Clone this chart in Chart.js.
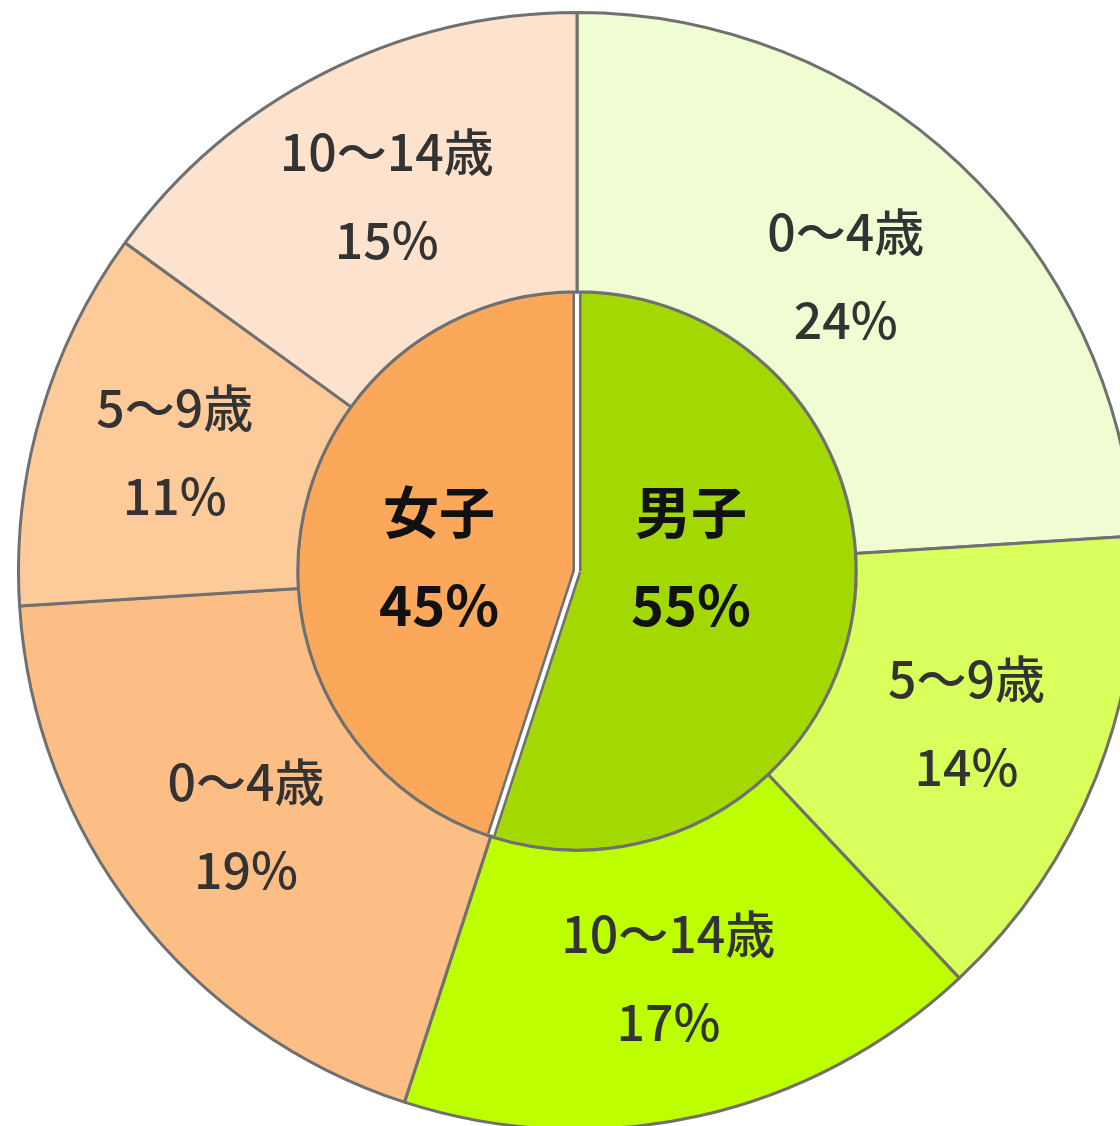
<!DOCTYPE html>
<html>
<head>
<meta charset="utf-8">
<script src="https://cdn.jsdelivr.net/npm/chart.js@4"></script>
<style>
  html, body { margin: 0; padding: 0; background: #fff; overflow: hidden; }
  body { width: 1120px; height: 1126px; position: relative; }
  #wrap { position: absolute; left: 17px; top: 11px; width: 1120px; height: 1120px; }
</style>
</head>
<body>
<div id="wrap"><canvas id="pie"></canvas></div>
<script>
// outer ring: age groups, boys first then girls (clockwise from top)
const ageLabels = ["0～4歳", "5～9歳", "10～14歳", "0～4歳", "5～9歳", "10～14歳"];
const ageValues = [24, 14, 17, 19, 11, 15];
const ageColors = ["#F0FCD2", "#D9FF5C", "#BEFF00", "#FDBE86", "#FDCB9A", "#FDE3CD"];

// inner pie: sex
const sexLabels = ["男子", "女子"];
const sexValues = [55, 45];
const sexColors = ["#A4D802", "#FBA85A"];

const lineGray = "#707070";

// white gap (with grey edges) between the two inner slices
const gapLines = {
  id: "gapLines",
  afterDatasetsDraw(chart) {
    const ctx = chart.ctx;
    const meta = chart.getDatasetMeta(1);
    ctx.save();
    ctx.lineCap = "butt";
    [[lineGray, 9], ["#fff", 4]].forEach(([color, width]) => {
      ctx.strokeStyle = color;
      ctx.lineWidth = width;
      meta.data.forEach((arc) => {
        const r = arc.outerRadius - 2;
        ctx.beginPath();
        ctx.moveTo(arc.x, arc.y);
        ctx.lineTo(arc.x + Math.cos(arc.startAngle) * r, arc.y + Math.sin(arc.startAngle) * r);
        ctx.stroke();
      });
    });
    ctx.restore();
  },
};

// two-line labels on every slice
const sliceLabels = {
  id: "sliceLabels",
  afterDraw(chart) {
    const ctx = chart.ctx;
    ctx.save();
    ctx.textAlign = "center";
    ctx.textBaseline = "middle";

    chart.getDatasetMeta(0).data.forEach((arc, i) => {
      const p = arc.tooltipPosition();
      const x = p.x - (i === 0 ? 18 : 0);
      const y = p.y + (i === 0 ? 10 : -2);
      ctx.fillStyle = "#333";
      ctx.font = '500 50px "Noto Sans CJK JP"';
      ctx.fillText(ageLabels[i], x, y - 44);
      ctx.fillText(ageValues[i] + "%", x, y + 44);
    });

    chart.getDatasetMeta(1).data.forEach((arc, i) => {
      const p = arc.tooltipPosition();
      const y = arc.y - arc.outerRadius * 0.047;
      const x = p.x + (i === 0 ? -24 : 0);
      ctx.fillStyle = "#111";
      ctx.font = 'bold 56px "Noto Sans CJK JP"';
      ctx.fillText(sexLabels[i], x, y - 46);
      ctx.fillText(sexValues[i] + "%", x, y + 47);
    });
    ctx.restore();
  },
};

new Chart(document.getElementById("pie"), {
  type: "doughnut",
  data: {
    labels: ageLabels,
    datasets: [
      {
        data: ageValues,
        backgroundColor: ageColors,
        borderColor: lineGray,
        borderWidth: 3,
        weight: 1,
      },
      {
        data: sexValues,
        backgroundColor: sexColors,
        borderColor: lineGray,
        borderWidth: 3,
        weight: 1,
      },
    ],
  },
  options: {
    responsive: true,
    maintainAspectRatio: false,
    animation: false,
    cutout: 0,
    layout: { padding: 0 },
    plugins: {
      legend: { display: false },
      tooltip: { enabled: false },
    },
  },
  plugins: [gapLines, sliceLabels],
});
</script>
</body>
</html>
